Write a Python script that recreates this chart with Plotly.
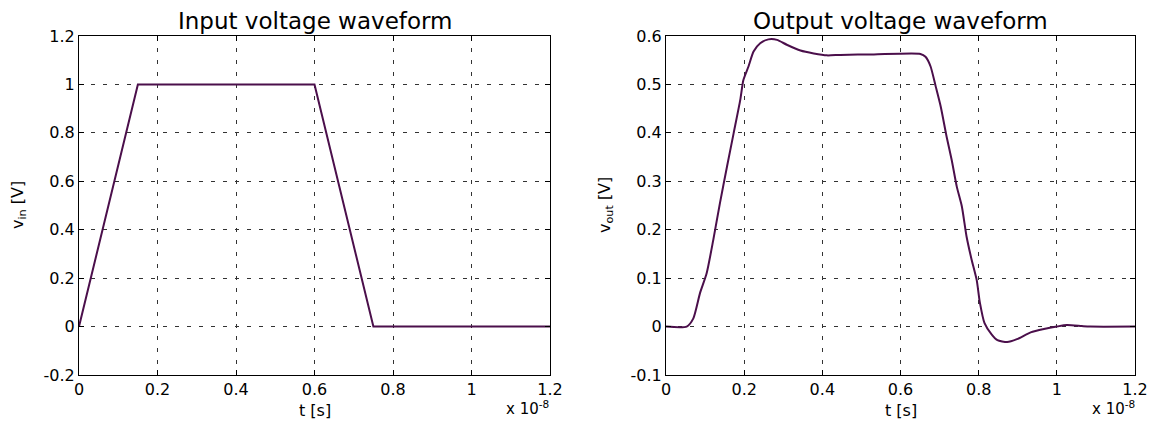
import plotly.graph_objects as go

# ---- data (time in units of 1e-8 s, voltage in V) ----
t_in = [0.0, 0.15, 0.60, 0.75, 1.20]
v_in = [0.0, 1.0, 1.0, 0.0, 0.0]

t_out = [0.0, 0.053, 0.070, 0.087, 0.104, 0.121, 0.138, 0.156, 0.173, 0.190, 0.198,
         0.211, 0.224, 0.241, 0.262, 0.284, 0.309, 0.344, 0.378, 0.412, 0.446, 0.532,
         0.651, 0.664, 0.677, 0.690, 0.703, 0.718, 0.731, 0.744, 0.757, 0.769, 0.782,
         0.795, 0.803, 0.815, 0.833, 0.848, 0.873, 0.898, 0.933, 0.967, 1.000, 1.026,
         1.064, 1.085, 1.200]
v_out = [0.0, 0.0, 0.017, 0.069, 0.110, 0.179, 0.255, 0.330, 0.399, 0.468, 0.509,
         0.537, 0.568, 0.585, 0.593, 0.592, 0.582, 0.570, 0.564, 0.560, 0.561, 0.562,
         0.563, 0.557, 0.537, 0.496, 0.454, 0.392, 0.344, 0.289, 0.248, 0.186, 0.138,
         0.096, 0.050, 0.007, -0.016, -0.028, -0.032, -0.026, -0.012, -0.005, 0.0, 0.003,
         0.001, 0.0, 0.0]

x_ticks = [0, 0.2, 0.4, 0.6, 0.8, 1.0, 1.2]
x_ticktext = ["0", "0.2", "0.4", "0.6", "0.8", "1", "1.2"]
yin_ticks = [-0.2, 0, 0.2, 0.4, 0.6, 0.8, 1.0, 1.2]
yin_ticktext = ["-0.2", "0", "0.2", "0.4", "0.6", "0.8", "1", "1.2"]
yout_ticks = [-0.1, 0, 0.1, 0.2, 0.3, 0.4, 0.5, 0.6]
yout_ticktext = ["-0.1", "0", "0.1", "0.2", "0.3", "0.4", "0.5", "0.6"]

OFF = 8                      # page body margin
W, H = 1156 - OFF, 425 - OFF  # figure size
LINE = "#4b0f4b"
FONT = "DejaVu Sans, Liberation Sans, Arial, sans-serif"

def px(x):
    return (x - OFF) / W

def py(y):
    return 1 - (y - OFF) / H

fig = go.Figure()
fig.add_trace(go.Scatter(x=t_in, y=v_in, mode="lines", line=dict(color=LINE, width=2),
                         xaxis="x", yaxis="y", showlegend=False))
fig.add_trace(go.Scatter(x=t_out, y=v_out, mode="lines",
                         line=dict(color=LINE, width=2, shape="spline", smoothing=0.6),
                         xaxis="x2", yaxis="y2", showlegend=False))

ydom = [py(375), py(36)]
xdom1 = [px(79), px(550)]
xdom2 = [px(666), px(1135)]

common = dict(showline=True, linecolor="black", linewidth=1, mirror="allticks",
              ticks="inside", ticklen=5, tickcolor="black", automargin=False,
              showgrid=True, gridcolor="#333333", gridwidth=1, griddash="4px,8px",
              zeroline=False, tickfont=dict(family=FONT, size=16, color="black"))

fig.update_layout(
    width=W, height=H, autosize=False,
    margin=dict(l=0, r=0, t=0, b=0, pad=0, autoexpand=False),
    paper_bgcolor="white", plot_bgcolor="white",
    font=dict(family=FONT, color="black"),
    xaxis=dict(domain=xdom1, range=[0, 1.2], tickvals=x_ticks, ticktext=x_ticktext,
               anchor="y", **common),
    yaxis=dict(domain=ydom, range=[-0.2, 1.2], tickvals=yin_ticks, ticktext=yin_ticktext,
               anchor="x", **common),
    xaxis2=dict(domain=xdom2, range=[0, 1.2], tickvals=x_ticks, ticktext=x_ticktext,
                anchor="y2", **common),
    yaxis2=dict(domain=ydom, range=[-0.1, 0.6], tickvals=yout_ticks, ticktext=yout_ticktext,
                anchor="x2", **common),
)

def ann(text, x, y, size, **kw):
    fig.add_annotation(text=text, x=px(x), y=py(y), xref="paper", yref="paper",
                       xanchor="center", yanchor="middle", showarrow=False,
                       font=dict(family=FONT, size=size, color="black"), **kw)

ann("Input voltage waveform", 314.5, 21, 23)
ann("Output voltage waveform", 900.5, 21, 23)
ann("t [s]", 314.5, 410, 16)
ann("t [s]", 900.5, 410, 16)
ann("x 10<sup>-8</sup>", 527, 408, 15)
ann("x 10<sup>-8</sup>", 1113, 408, 15)
ann("v<sub>in</sub> [V]", 19, 205, 16, textangle=-90)
ann("v<sub>out</sub> [V]", 606, 205, 16, textangle=-90)

fig.write_html("out.html")
